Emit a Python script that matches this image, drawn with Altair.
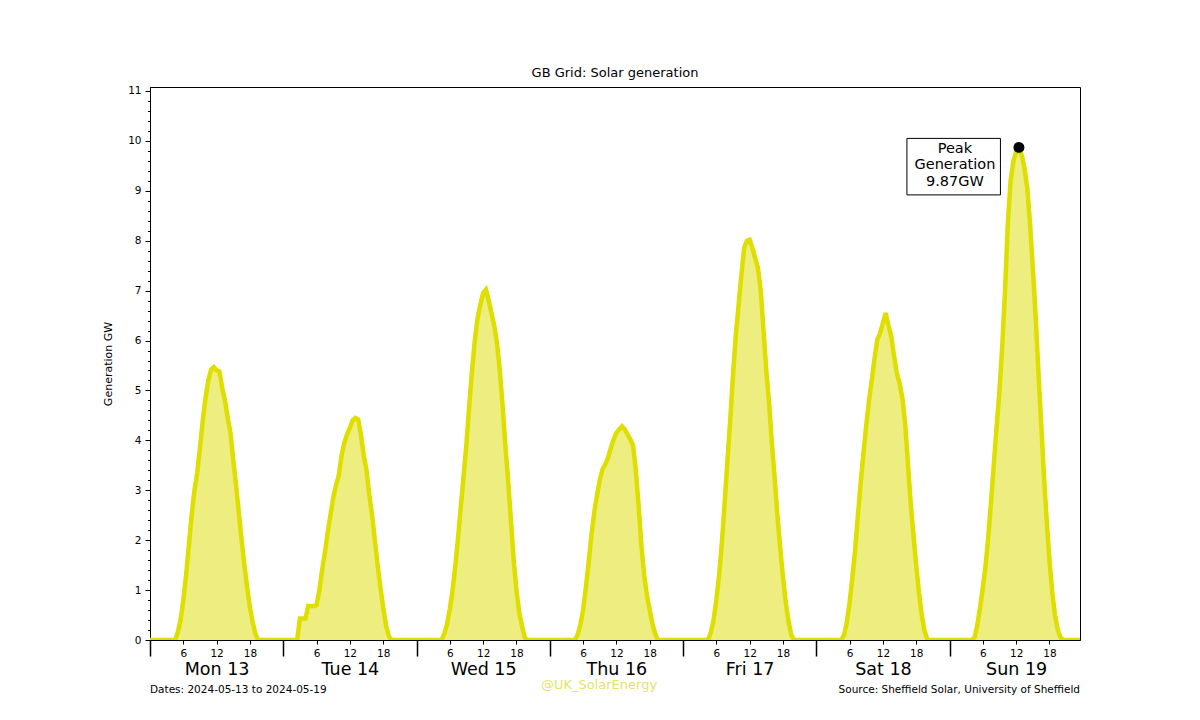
import json
import altair as alt
import pandas as pd

# ---------------- data (GW, half-hourly) ----------------
DAYS = ["Mon 13", "Tue 14", "Wed 15", "Thu 16", "Fri 17", "Sat 18", "Sun 19"]
HOUR_TICKS = [6, 12, 18]
STEP_HOURS = 0.5
Y_MAX = 11.08

mon = [0, 0, 0, 0, 0, 0, 0, 0, 0, 0, 0.15, 0.4, 0.8, 1.3, 1.9, 2.5, 3.0, 3.35, 3.85, 4.4,
       4.85, 5.2, 5.42, 5.47, 5.4, 5.38, 5.05, 4.8, 4.45, 4.15, 3.6, 3.1, 2.55, 2.0, 1.5, 1.05,
       0.65, 0.35, 0.12, 0, 0, 0, 0, 0, 0, 0, 0, 0]
tue = [0, 0, 0, 0, 0, 0, 0.43, 0.43, 0.43, 0.68, 0.68, 0.68, 0.7, 1.0, 1.4, 1.75, 2.15, 2.5,
       2.85, 3.1, 3.3, 3.7, 3.95, 4.12, 4.25, 4.4, 4.45, 4.42, 4.1, 3.7, 3.4, 2.9, 2.5, 2.0,
       1.5, 1.05, 0.65, 0.3, 0.08, 0, 0, 0, 0, 0, 0, 0, 0, 0]
wed = [0, 0, 0, 0, 0, 0, 0, 0, 0, 0, 0.12, 0.32, 0.62, 1.0, 1.5, 2.07, 2.7, 3.3, 3.94, 4.7,
       5.4, 6.0, 6.45, 6.72, 6.95, 7.02, 6.8, 6.55, 6.3, 5.95, 5.4, 4.7, 3.9, 3.2, 2.4, 1.6,
       1.0, 0.55, 0.28, 0.05, 0, 0, 0, 0, 0, 0, 0, 0]
thu = [0, 0, 0, 0, 0, 0, 0, 0, 0, 0, 0.1, 0.3, 0.6, 1.05, 1.55, 2.1, 2.55, 2.9, 3.2, 3.42,
       3.52, 3.65, 3.85, 4.02, 4.15, 4.22, 4.28, 4.22, 4.12, 4.02, 3.9, 3.4, 2.7, 1.9, 1.3, 0.9,
       0.6, 0.32, 0.12, 0, 0, 0, 0, 0, 0, 0, 0, 0]
fri = [0, 0, 0, 0, 0, 0, 0, 0, 0, 0, 0.15, 0.4, 0.8, 1.3, 1.95, 2.75, 3.6, 4.4, 5.3, 6.1,
       6.7, 7.3, 7.85, 8.0, 8.02, 7.85, 7.65, 7.45, 7.0, 6.2, 5.4, 4.75, 3.95, 3.25, 2.5, 1.85,
       1.27, 0.75, 0.38, 0.1, 0, 0, 0, 0, 0, 0, 0, 0]
sat = [0, 0, 0, 0, 0, 0, 0, 0, 0, 0, 0.1, 0.35, 0.75, 1.25, 1.8, 2.5, 3.15, 3.75, 4.3, 4.8,
       5.21, 5.65, 6.02, 6.15, 6.35, 6.55, 6.3, 6.08, 5.7, 5.35, 5.15, 4.85, 4.35, 3.55, 2.75, 2.1,
       1.5, 0.95, 0.5, 0.18, 0.02, 0, 0, 0, 0, 0, 0, 0]
sun = [0, 0, 0, 0, 0, 0, 0, 0, 0, 0.05, 0.3, 0.65, 1.05, 1.5, 2.1, 2.8, 3.55, 4.3, 5.0, 5.9,
       7.0, 8.35, 9.2, 9.6, 9.78, 9.87, 9.72, 9.45, 9.05, 8.35, 7.45, 6.5, 5.4, 4.35, 3.3, 2.4,
       1.6, 0.95, 0.5, 0.2, 0.05, 0, 0, 0, 0, 0, 0, 0]

TITLE = "GB Grid: Solar generation"
Y_TITLE = "Generation GW"
FOOT_LEFT = "Dates: 2024-05-13 to 2024-05-19"
FOOT_RIGHT = "Source: Sheffield Solar, University of Sheffield"
WATERMARK = "@UK_SolarEnergy"

# ---------------- build table ----------------
series = [mon, tue, wed, thu, fri, sat, sun]
rows = []
for d, vals in enumerate(series):
    for i, v in enumerate(vals):
        rows.append({"t": d * 24 + i * STEP_HOURS, "gw": v})
df = pd.DataFrame(rows)
pk = df.loc[df["gw"].idxmax()]
peak_df = pd.DataFrame([{"t": float(pk["t"]), "gw": float(pk["gw"]),
                         "label": f"Peak\nGeneration\n{pk['gw']:.2f}GW"}])

FONT = "DejaVu Sans"
FILL = "#EDED80"
STROKE = "#DEDE00"

xs = alt.Scale(domain=[0, float(df["t"].max())], nice=False, zero=False)
ys = alt.Scale(domain=[0, Y_MAX], nice=False, zero=True)

hour_vals = [d * 24 + h for d in range(len(DAYS)) for h in [0] + HOUR_TICKS]
is_day = "datum.value % 24 == 0"
hour_axis = alt.Axis(
    values=hour_vals, orient="bottom", title=None,
    labelExpr=f"{is_day} ? '' : format(datum.value % 24, 'd')",
    tickSize={"condition": {"test": is_day, "value": 16}, "value": 4},
    tickWidth={"condition": {"test": is_day, "value": 1.5}, "value": 1},
    labelFontSize=10.5, labelPadding=4, labelOverlap=False, labelFlush=False,
    domainColor="black", tickColor="black", labelColor="black", labelFont=FONT,
)
day_axis = alt.Axis(
    values=[d * 24 + 12 for d in range(len(DAYS))], orient="bottom", title=None,
    labelExpr=f"{json.dumps(DAYS)}[floor(datum.value / 24)]",
    ticks=False, domain=False, labelFontSize=17.5, labelPadding=20,
    labelOverlap=False, labelFlush=False, labelColor="black", labelFont=FONT,
)
y_vals = [round(i * 0.2, 1) for i in range(56)]
is_int = "abs(datum.value - round(datum.value)) < 0.001"
y_axis = alt.Axis(
    values=y_vals, title=Y_TITLE, titleFontSize=11, titleFontWeight="normal",
    titleFont=FONT, titleColor="black", titlePadding=14,
    labelExpr=f"{is_int} ? format(datum.value, 'd') : ''",
    tickSize={"condition": {"test": is_int, "value": 5}, "value": 2.5},
    labelFontSize=10.5, labelPadding=4, labelOverlap=False, labelFlush=False,
    domainColor="black", tickColor="black", labelColor="black", labelFont=FONT,
)
Y = alt.Y("gw:Q", scale=ys, axis=y_axis)

base = alt.Chart(df)
area = base.mark_area(color=FILL, opacity=1, clip=True).encode(
    x=alt.X("t:Q", scale=xs, axis=hour_axis), y=Y)
line = base.mark_line(color=STROKE, strokeWidth=4.5, clip=True).encode(
    x=alt.X("t:Q", scale=xs, axis=day_axis), y=Y)

pbase = alt.Chart(peak_df)
box = pbase.mark_rect(fill="white", stroke="black", strokeWidth=1,
                      xOffset=-112, x2Offset=-18.5, yOffset=-9, y2Offset=47.5).encode(
    x=alt.X("t:Q", scale=xs, axis=None), x2="t:Q",
    y=Y, y2="gw:Q")
box_text = pbase.mark_text(font=FONT, fontSize=14.5, lineBreak="\n", lineHeight=16.4,
                           align="center", baseline="middle", dx=-64, dy=1.5,
                           color="black").encode(
    x=alt.X("t:Q", scale=xs, axis=None), y=Y, text="label:N")
dot = pbase.mark_circle(size=120, color="black", opacity=1).encode(
    x=alt.X("t:Q", scale=xs, axis=None), y=Y)

foot_l = alt.Chart(pd.DataFrame({"s": [FOOT_LEFT]})).mark_text(
    font=FONT, fontSize=10.5, align="left", baseline="middle", color="black").encode(
    x=alt.value(0), y=alt.value(603), text="s:N")
foot_r = alt.Chart(pd.DataFrame({"s": [FOOT_RIGHT]})).mark_text(
    font=FONT, fontSize=10.5, align="right", baseline="middle", color="black").encode(
    x=alt.value(930), y=alt.value(603), text="s:N")
wm = alt.Chart(pd.DataFrame({"s": [WATERMARK]})).mark_text(
    font=FONT, fontSize=13, align="center", baseline="middle", color="#E3E36A").encode(
    x=alt.value(449), y=alt.value(598), text="s:N")

chart = alt.layer(area, line, box, box_text, dot, foot_l, foot_r, wm).resolve_axis(
    x="independent"
).properties(
    width=930, height=553,
    autosize=alt.AutoSizeParams(type="none"),
    padding={"left": 142, "top": 79, "right": 100, "bottom": 70},
    title=alt.TitleParams(TITLE, fontSize=13, fontWeight="normal", font=FONT,
                          color="black", anchor="middle", offset=6),
).configure_view(stroke="black", strokeWidth=1).configure_axis(grid=False)

chart.save("out.html", embed_options={"renderer": "svg", "actions": False})
